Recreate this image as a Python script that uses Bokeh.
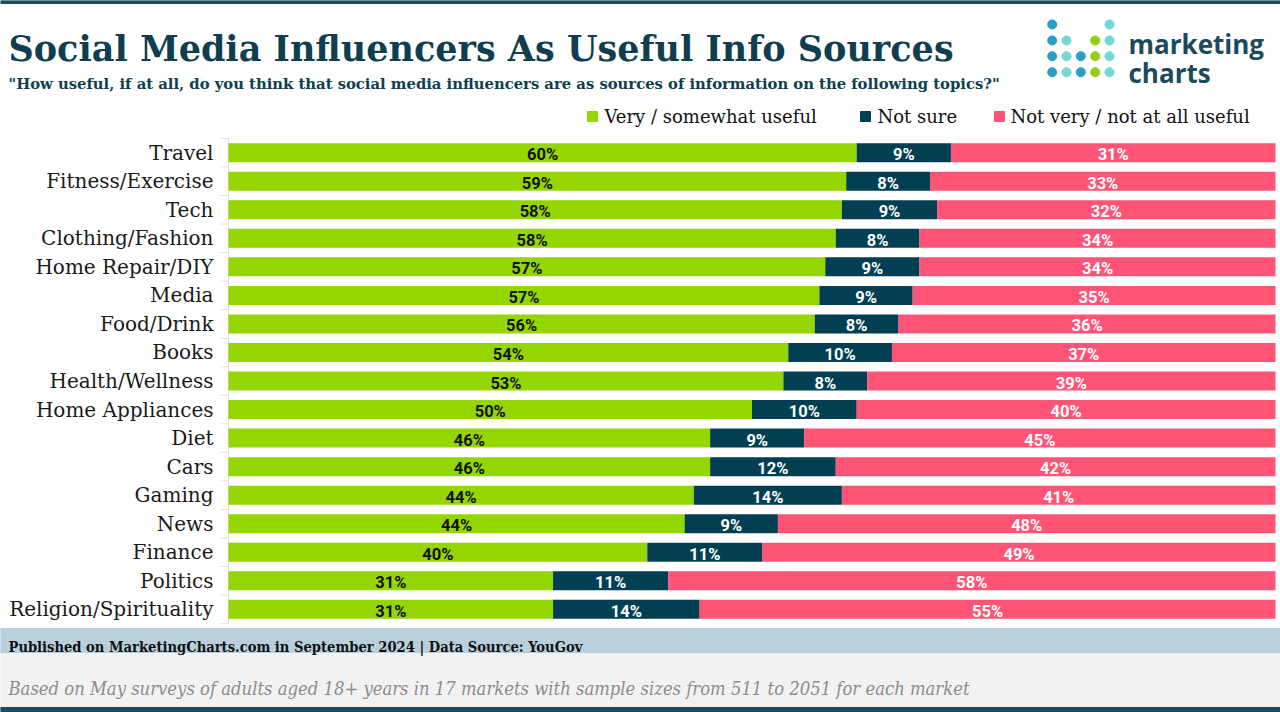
from bokeh.plotting import figure
from bokeh.models import Range1d, ColumnDataSource
from bokeh.core.properties import value
from bokeh.embed import file_html
from bokeh.resources import INLINE

# ---------------- data ----------------
categories = ["Travel", "Fitness/Exercise", "Tech", "Clothing/Fashion", "Home Repair/DIY",
              "Media", "Food/Drink", "Books", "Health/Wellness", "Home Appliances", "Diet",
              "Cars", "Gaming", "News", "Finance", "Politics", "Religion/Spirituality"]
useful = [60, 59, 58, 58, 57, 57, 56, 54, 53, 50, 46, 46, 44, 44, 40, 31, 31]
not_sure = [9, 8, 9, 8, 9, 9, 8, 10, 8, 10, 9, 12, 14, 9, 11, 11, 14]
not_useful = [31, 33, 32, 34, 34, 35, 36, 37, 39, 40, 45, 42, 41, 48, 49, 58, 55]
series = ["Very / somewhat useful", "Not sure", "Not very / not at all useful"]

title = "Social Media Influencers As Useful Info Sources"
subtitle = ('"How useful, if at all, do you think that social media influencers are as '
            'sources of information on the following topics?"')
footer1 = "Published on MarketingCharts.com in September 2024 | Data Source: YouGov"
footer2 = ("Based on May surveys of adults aged 18+ years in 17 markets with sample sizes "
           "from 511 to 2051 for each market")

# ---------------- styles ----------------
GREEN = "#95d600"
NAVY = "#023f52"
PINK = "#ff5476"
DARK = "#0e3e4f"
colors = [GREEN, NAVY, PINK]
label_colors = ["#111111", "#ffffff", "#ffffff"]

W, H = 1280, 712
X0, PX_PER_PCT = 228.0, 10.47
Y0, ROW = 152.2, 28.54

SERIF = "'DejaVu Serif', serif"
SERIF_C = "'DejaVu Serif Condensed', 'DejaVu Serif', serif"

p = figure(width=W, height=H, output_backend="svg", toolbar_location=None,
           x_range=Range1d(-X0 / PX_PER_PCT, (W - X0) / PX_PER_PCT),
           y_range=Range1d((H - Y0) / ROW, -Y0 / ROW),
           min_border=0, min_border_left=0, min_border_right=0,
           min_border_top=0, min_border_bottom=0)
p.extra_x_ranges = {"px": Range1d(0, W)}
p.extra_y_ranges = {"py": Range1d(H, 0)}
p.axis.visible = False
p.grid.visible = False
p.outline_line_color = None
p.background_fill_color = "white"
p.border_fill_color = "white"

# ---------------- decorations (pixel space) ----------------
p.quad(left=[0], right=[W], top=[0], bottom=[3], color="#1d4c5c",
       x_range_name="px", y_range_name="py")
p.quad(left=[0], right=[W], top=[628], bottom=[653], color="#b9d0dc",
       x_range_name="px", y_range_name="py")
p.quad(left=[0], right=[W], top=[653], bottom=[707], color="#f2f2f2",
       x_range_name="px", y_range_name="py")
p.quad(left=[0], right=[W], top=[707], bottom=[712], color="#1d4c5c",
       x_range_name="px", y_range_name="py")

p.text(x=[8], y=[48], text=[title], x_range_name="px", y_range_name="py",
       text_font=value(SERIF), text_font_style="bold", text_font_size="35px",
       text_color=DARK, text_baseline="alphabetic")
p.text(x=[8], y=[83], text=[subtitle], x_range_name="px", y_range_name="py",
       text_font=value(SERIF), text_font_style="bold", text_font_size="14.8px",
       text_color=DARK, text_baseline="alphabetic")
p.text(x=[8], y=[646], text=[footer1], x_range_name="px", y_range_name="py",
       text_font=value(SERIF_C), text_font_style="bold", text_font_size="14.6px",
       text_color="#111111", text_baseline="alphabetic")
p.text(x=[8], y=[688], text=[footer2], x_range_name="px", y_range_name="py",
       text_font=value(SERIF_C), text_font_style="italic", text_font_size="18.3px",
       text_color="#8c8c8c", text_baseline="alphabetic")

# logo
dot_x = [1051.7, 1051.7, 1066, 1094.7, 1109, 1051.7, 1066, 1080.3, 1094.7, 1109,
         1051.7, 1066, 1080.3, 1094.7, 1109, 1109]
dot_y = [24, 40, 40, 40, 40, 55.7, 55.7, 55.7, 55.7, 55.7, 71.7, 71.7, 71.7, 71.7, 71.7, 24]
dot_c = ["#2a9cc6", "#2a9cc6", "#72d9d6", "#8fd014", "#72d9d6",
         "#2a9cc6", "#72d9d6", "#2a9cc6", "#8fd014", "#72d9d6",
         "#2a9cc6", "#72d9d6", "#2a9cc6", "#8fd014", "#72d9d6", "#72d9d6"]
p.scatter(x=dot_x, y=dot_y, size=9, color=dot_c, x_range_name="px", y_range_name="py")
p.text(x=[1128, 1128], y=[43, 72], text=["marketing", "charts"], x_range_name="px",
       y_range_name="py", text_font=value("Open Sans"), text_font_style="bold",
       text_font_size="26px", text_color="#1b4a5c", text_baseline="alphabetic")

# legend
leg_sq_x = [592, 865, 999]
leg_tx_x = [604, 877, 1010]
p.scatter(x=leg_sq_x, y=[116] * 3, marker="square", size=10, color=colors,
          x_range_name="px", y_range_name="py")
p.text(x=leg_tx_x, y=[116] * 3, text=series, x_range_name="px", y_range_name="py",
       text_font=value(SERIF), text_font_size="18px", text_color="#111111",
       text_baseline="middle")

# light axis line and ticks
p.segment(x0=[228], x1=[228], y0=[138], y1=[624], color="#dddddd", line_width=1,
          x_range_name="px", y_range_name="py")
idx = list(range(len(categories)))
p.segment(x0=[220] * (len(idx) + 1), x1=[228] * (len(idx) + 1),
          y0=[i - 0.5 for i in range(len(idx) + 1)],
          y1=[i - 0.5 for i in range(len(idx) + 1)],
          color="#e3e3e3", line_width=1, x_range_name="px")

# ---------------- bars ----------------
totals = [a + b + c for a, b, c in zip(useful, not_sure, not_useful)]
shares = [[v / t * 100 for v, t in zip(s, totals)] for s in (useful, not_sure, not_useful)]
raw = [useful, not_sure, not_useful]
left = [0.0] * len(categories)
for k in range(3):
    right = [l + s for l, s in zip(left, shares[k])]
    src = ColumnDataSource(dict(
        y=idx, left=left, right=right,
        mid=[(l + r) / 2 for l, r in zip(left, right)],
        lab=[f"{v}%" for v in raw[k]]))
    p.hbar(y="y", left="left", right="right", height=0.665, color=colors[k],
           line_color=None, source=src)
    p.text(x="mid", y="y", text="lab", source=src, text_align="center",
           text_baseline="middle", y_offset=2, text_font=value("Roboto"),
           text_font_style="bold", text_font_size="16.5px", text_color=label_colors[k])
    left = right

p.text(x=[213] * len(categories), y=idx, text=categories, x_range_name="px",
       text_align="right", text_baseline="middle", text_font=value("DejaVu Serif"),
       text_font_size="20px", text_color="#1a1a1a")

open("out.html", "w").write(file_html(p, INLINE))
